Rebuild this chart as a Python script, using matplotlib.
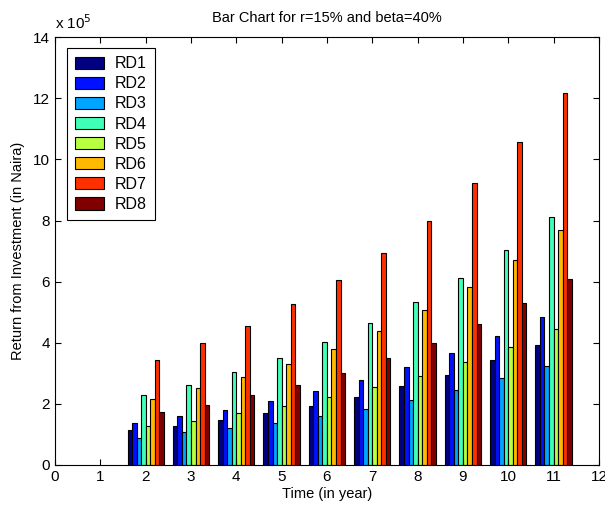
import matplotlib
matplotlib.use("Agg")
import matplotlib.pyplot as plt
import numpy as np
from matplotlib.ticker import FuncFormatter

plt.rcParams['font.family'] = ['Liberation Sans', 'DejaVu Sans']

years = [2, 3, 4, 5, 6, 7, 8, 9, 10, 11]
series_names = ['RD1', 'RD2', 'RD3', 'RD4', 'RD5', 'RD6', 'RD7', 'RD8']

# values in units of 1e5 Naira
rd1 = [1.14, 1.26, 1.47, 1.69, 1.93, 2.22, 2.58, 2.96, 3.42, 3.91]
rd2 = [1.39, 1.60, 1.81, 2.09, 2.43, 2.79, 3.19, 3.66, 4.23, 4.85]
rd3 = [0.89, 1.07, 1.22, 1.39, 1.60, 1.84, 2.14, 2.46, 2.83, 3.25]
rd4 = [2.30, 2.63, 3.04, 3.50, 4.03, 4.64, 5.34, 6.12, 7.03, 8.10]
rd5 = [1.26, 1.43, 1.69, 1.93, 2.22, 2.55, 2.91, 3.37, 3.86, 4.44]
rd6 = [2.17, 2.51, 2.89, 3.32, 3.81, 4.40, 5.07, 5.83, 6.70, 7.69]
rd7 = [3.44, 3.98, 4.55, 5.26, 6.05, 6.95, 7.99, 9.22, 10.57, 12.17]
rd8 = [1.72, 1.97, 2.30, 2.63, 3.01, 3.49, 3.98, 4.60, 5.31, 6.09]

data = np.array([rd1, rd2, rd3, rd4, rd5, rd6, rd7, rd8]) * 1e5

fig = plt.figure(figsize=(6.05, 5.13), dpi=100)
ax = fig.add_axes([0.0909, 0.0936, 0.899, 0.834])

colors = plt.cm.jet(np.linspace(0, 1, len(series_names)))
n = len(series_names)
bw = 0.8 / n
x = np.array(years, dtype=float)
for i, name in enumerate(series_names):
    off = (i - (n - 1) / 2) * bw
    ax.bar(x + off, data[i], width=bw, color=colors[i], edgecolor='black',
           linewidth=0.8, label=name)

ax.set_xlim(0, 12)
ax.set_ylim(0, 14e5)
ax.set_xticks(range(0, 13))
ax.set_yticks(np.arange(0, 15e5, 2e5))
ax.yaxis.set_major_formatter(FuncFormatter(lambda v, p: '%d' % round(v / 1e5)))
ax.tick_params(direction='in', length=4, top=True, right=True, labelsize=11, width=0.8)
for s in ax.spines.values():
    s.set_linewidth(0.8)

ax.text(0.0, 1.012, r'x 10$^5$', transform=ax.transAxes, fontsize=11, ha='left', va='bottom')
ax.set_title('Bar Chart for r=15% and beta=40%', fontsize=10.5, pad=11)
ax.set_xlabel('Time (in year)', fontsize=10.5, labelpad=2)
ax.set_ylabel('Return from Investment (in Naira)', fontsize=10.5, labelpad=6)

leg = ax.legend(loc='upper left', fontsize=11.5, fancybox=False, framealpha=1,
                edgecolor='black', handlelength=1.8, handleheight=0.8,
                handletextpad=0.7, labelspacing=0.32, borderpad=0.5,
                borderaxespad=0, bbox_to_anchor=(0.022, 0.974))
leg.get_frame().set_linewidth(0.8)

fig.savefig('out.png', dpi=100)
